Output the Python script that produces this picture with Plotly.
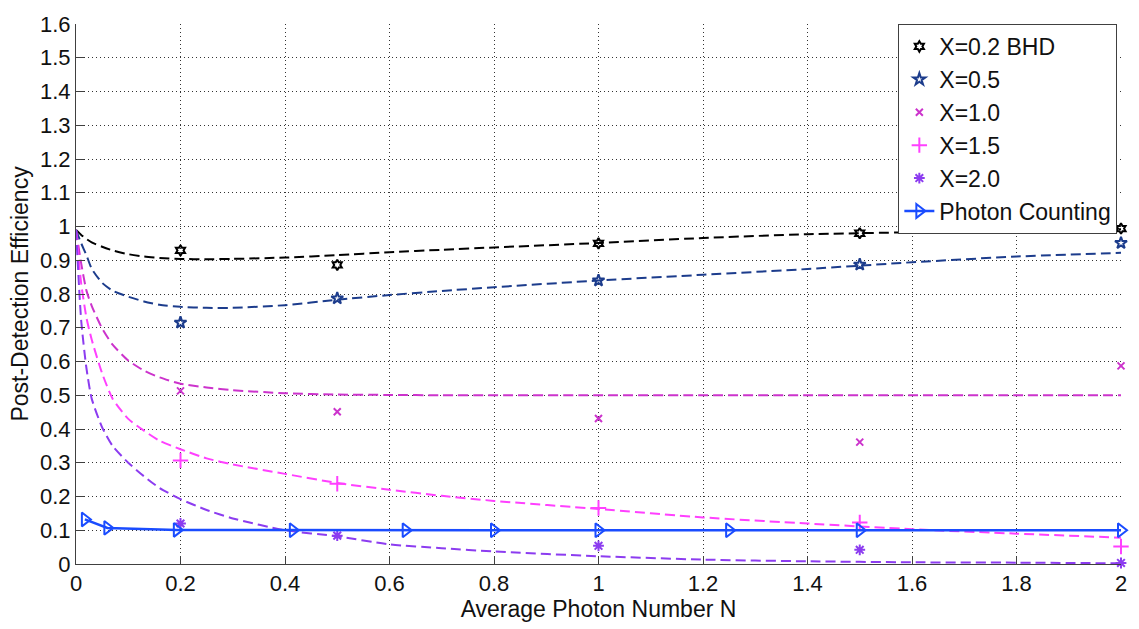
import plotly.graph_objects as go

# Measured post-detection efficiency at selected average photon numbers
N_points = [0.2, 0.5, 1.0, 1.5, 2.0]
eff_x02_bhd = [0.929, 0.886, 0.950, 0.980, 0.994]
eff_x05 = [0.715, 0.787, 0.840, 0.887, 0.951]
eff_x10 = [0.513, 0.451, 0.431, 0.361, 0.587]
eff_x15 = [0.307, 0.238, 0.166, 0.123, 0.052]
eff_x20 = [0.120, 0.084, 0.054, 0.042, 0.003]

# Theoretical curves (dashed)
N_curve = [0, 0.01, 0.02, 0.03, 0.05, 0.07, 0.1, 0.13, 0.16, 0.2, 0.25, 0.3,
           0.4, 0.5, 0.6, 0.7, 0.8, 1.0, 1.2, 1.4, 1.6, 1.8, 2.0]
curve_x02 = [0.99, 0.975, 0.963, 0.953, 0.940, 0.929, 0.918, 0.911, 0.907, 0.904,
             0.903, 0.904, 0.908, 0.915, 0.924, 0.931, 0.938, 0.951, 0.966, 0.977,
             0.983, 0.988, 0.992]
curve_x05 = [0.99, 0.950, 0.915, 0.875, 0.833, 0.810, 0.792, 0.778, 0.768, 0.762,
             0.759, 0.759, 0.767, 0.783, 0.797, 0.809, 0.820, 0.840, 0.857, 0.874,
             0.894, 0.911, 0.922]
curve_x10 = [0.99, 0.890, 0.810, 0.765, 0.698, 0.650, 0.603, 0.573, 0.553, 0.534,
             0.523, 0.515, 0.506, 0.502, 0.501, 0.500, 0.500, 0.500, 0.500, 0.500,
             0.500, 0.500, 0.500]
curve_x15 = [0.99, 0.830, 0.730, 0.665, 0.565, 0.490, 0.430, 0.395, 0.365, 0.340,
             0.313, 0.295, 0.267, 0.240, 0.220, 0.202, 0.187, 0.163, 0.138, 0.120,
             0.103, 0.090, 0.078]
curve_x20 = [0.99, 0.720, 0.580, 0.490, 0.405, 0.350, 0.300, 0.260, 0.225, 0.192,
             0.160, 0.135, 0.100, 0.082, 0.058, 0.047, 0.037, 0.023, 0.013, 0.008,
             0.005, 0.004, 0.002]

# Photon counting reference
N_pc = [0.017, 0.06, 0.193, 0.415, 0.631, 0.8, 1.0, 1.25, 1.5, 2.0]
eff_pc = [0.132, 0.107, 0.101, 0.100, 0.100, 0.100, 0.100, 0.100, 0.100, 0.100]

series = [
    ("X=0.2 BHD", eff_x02_bhd, curve_x02, "#000000", "hexagram-open", 8),
    ("X=0.5", eff_x05, curve_x05, "#1c3c8c", "star-open", 9),
    ("X=1.0", eff_x10, curve_x10, "#cc33cc", "x-thin-open", 7),
    ("X=1.5", eff_x15, curve_x15, "#ff40ff", "cross-thin-open", 11),
    ("X=2.0", eff_x20, curve_x20, "#8c3cf0", "asterisk-open", 9),
]

FONT = "Liberation Sans, Arial, sans-serif"

fig = go.Figure()

for name, pts, curve, color, symbol, size in series:
    fig.add_trace(go.Scatter(
        x=N_curve, y=curve, mode="lines", showlegend=False, hoverinfo="skip",
        line=dict(color=color, width=2, dash="10px,5px", shape="spline", smoothing=0.6),
    ))

for name, pts, curve, color, symbol, size in series:
    fig.add_trace(go.Scatter(
        x=N_points, y=pts, mode="markers", name=name, cliponaxis=False,
        marker=dict(symbol=symbol, size=size, color=color,
                    line=dict(color=color, width=2)),
    ))

fig.add_trace(go.Scatter(
    x=N_pc, y=eff_pc, mode="lines+markers", name="Photon Counting", cliponaxis=False,
    line=dict(color="#1a4cff", width=2.5),
    marker=dict(symbol="triangle-right-open", size=12, color="#1a4cff",
                line=dict(color="#1a4cff", width=2)),
))

axis_common = dict(
    showline=True, linecolor="#404040", linewidth=1,
    ticks="inside", ticklen=8, tickcolor="#404040",
    showgrid=True, gridcolor="#333333", gridwidth=1, griddash="1px,3px",
    zeroline=False, mirror=False,
    tickfont=dict(family=FONT, size=22, color="#111111"),
)

fig.update_layout(
    width=1139, height=629,
    margin=dict(l=76, r=15, t=16, b=65),
    paper_bgcolor="white", plot_bgcolor="white",
    font=dict(family=FONT, size=23, color="#111111"),
    xaxis=dict(range=[0, 2], tick0=0, dtick=0.2,
               title=dict(text="Average Photon Number N", standoff=4,
                          font=dict(size=23)),
               **axis_common),
    yaxis=dict(range=[0, 1.6], tick0=0, dtick=0.1,
               title=dict(text="Post-Detection Efficiency", standoff=4,
                          font=dict(size=23)),
               **axis_common),
    legend=dict(x=0.9965, y=1.0, xanchor="right", yanchor="top",
                bgcolor="white", bordercolor="#404040", borderwidth=1,
                font=dict(size=23), tracegroupgap=0),
    showlegend=True,
)

fig.write_html("out.html")
